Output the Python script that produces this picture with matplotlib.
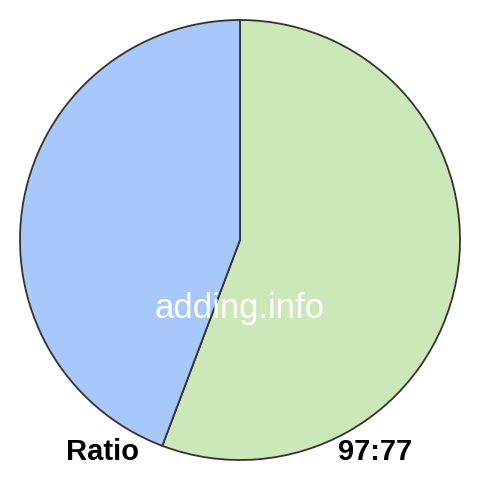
import matplotlib
matplotlib.use("Agg")
import matplotlib.pyplot as plt

labels = ["97", "77"]
values = [97, 77]
colors = ["#cde8b8", "#a8c8fc"]
title_left = "Ratio"
title_right = "97:77"
watermark = "adding.info"

plt.rcParams["font.family"] = ["Liberation Sans", "DejaVu Sans"]

fig = plt.figure(figsize=(4.8, 4.8), dpi=100)
ax = fig.add_axes([0, 0, 1, 1])
ax.pie(values, colors=colors, startangle=90, counterclock=False, radius=1,
       wedgeprops=dict(edgecolor="#333333", linewidth=1.3))
lim = 240 / 220
ax.set_xlim(-lim, lim)
ax.set_ylim(-lim, lim)
ax.set_aspect("equal")
ax.axis("off")

ax.text(0, -0.31, watermark, color="white", fontsize=25, ha="center", va="center")
ax.text(-0.623, -0.964, title_left, fontsize=21, fontweight="bold", ha="center", va="center")
ax.text(0.614, -0.964, title_right, fontsize=21, fontweight="bold", ha="center", va="center")

fig.savefig("out.png", dpi=100, facecolor="white")
